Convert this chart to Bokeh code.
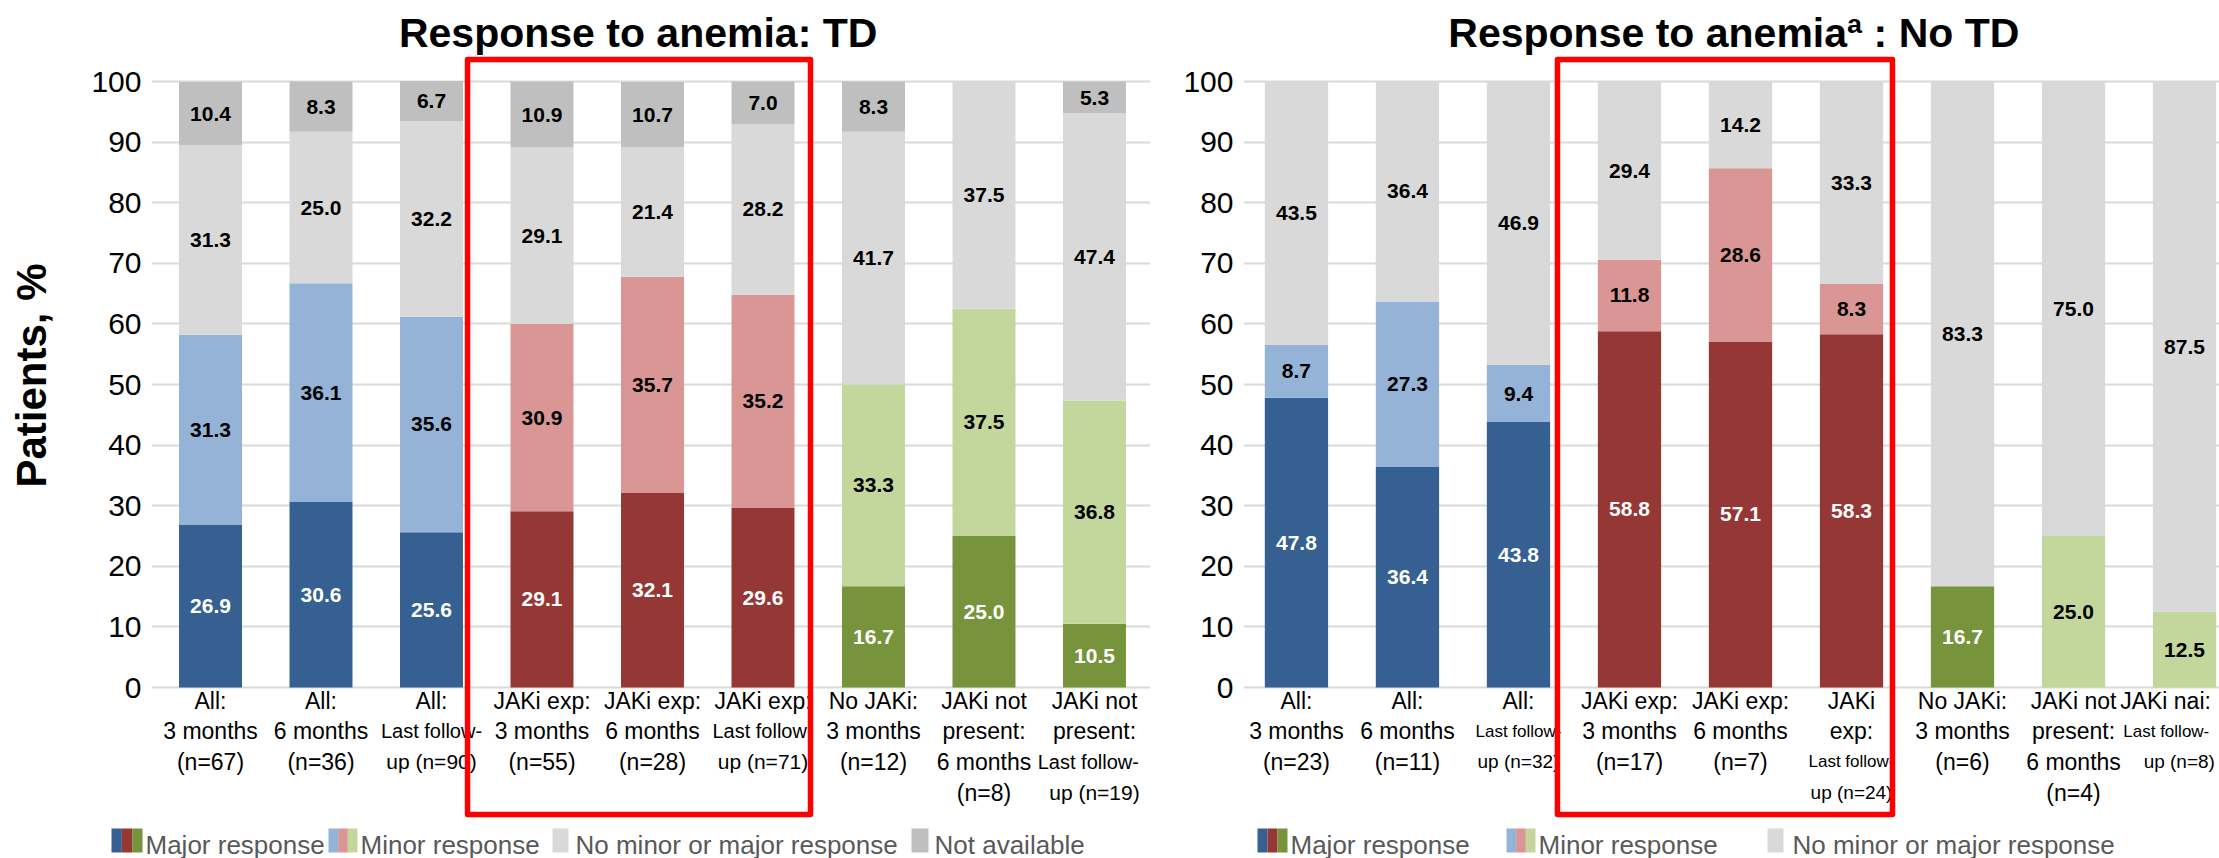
import numpy as np
from bokeh.plotting import figure
from bokeh.models import ColumnDataSource, Range1d, FixedTicker
from bokeh.layouts import row, column
from bokeh.embed import file_html
from bokeh.resources import INLINE
from bokeh.core.properties import value

# ---------------- data ----------------
td_title = "Response to anemia: TD"
td_labels = [
    "All:\n3 months\n(n=67)",
    "All:\n6 months\n(n=36)",
    "All:\nLast follow-\nup (n=90)",
    "JAKi exp:\n3 months\n(n=55)",
    "JAKi exp:\n6 months\n(n=28)",
    "JAKi exp:\nLast follow-\nup (n=71)",
    "No JAKi:\n3 months\n(n=12)",
    "JAKi not\npresent:\n6 months\n(n=8)",
    "JAKi not\npresent:\nLast follow-\nup (n=19)",
]
td_major = [26.9, 30.6, 25.6, 29.1, 32.1, 29.6, 16.7, 25.0, 10.5]
td_minor = [31.3, 36.1, 35.6, 30.9, 35.7, 35.2, 33.3, 37.5, 36.8]
td_none = [31.3, 25.0, 32.2, 29.1, 21.4, 28.2, 41.7, 37.5, 47.4]
td_na = [10.4, 8.3, 6.7, 10.9, 10.7, 7.0, 8.3, 0.0, 5.3]
td_group = [0, 0, 0, 1, 1, 1, 2, 2, 2]

notd_title = "Response to anemiaª : No TD"
notd_labels = [
    "All:\n3 months\n(n=23)",
    "All:\n6 months\n(n=11)",
    "All:\nLast follow-\nup (n=32)",
    "JAKi exp:\n3 months\n(n=17)",
    "JAKi exp:\n6 months\n(n=7)",
    "JAKi\nexp:\nLast follow-\nup (n=24)",
    "No JAKi:\n3 months\n(n=6)",
    "JAKi not\npresent:\n6 months\n(n=4)",
    "JAKi nai:\nLast follow-\nup (n=8)",
]
notd_major = [47.8, 36.4, 43.8, 58.8, 57.1, 58.3, 16.7, 0.0, 0.0]
notd_minor = [8.7, 27.3, 9.4, 11.8, 28.6, 8.3, 0.0, 25.0, 12.5]
notd_none = [43.5, 36.4, 46.9, 29.4, 14.2, 33.3, 83.3, 75.0, 87.5]
notd_group = [0, 0, 0, 1, 1, 1, 2, 2, 2]

y_title = "Patients, %"
td_legend = ["Major response", "Minor response", "No minor or major response", "Not available"]
notd_legend = ["Major response", "Minor response", "No minor or major response"]

# ---------------- styles / layout ----------------
MAJOR_COLORS = ["#366092", "#953735", "#77933C"]
MINOR_COLORS = ["#95B3D7", "#D99694", "#C3D69B"]
NONE_COLOR = "#D9D9D9"
NA_COLOR = "#BFBFBF"
FONT = "Liberation Sans"
PH = 822                      # panel height
PXU = 6.06                    # px per percentage point
Y0 = 687                      # px from panel top down to y = 0
y_range = Range1d(-(PH - Y0) / PXU, Y0 / PXU)
LINE_STEP = 30.7 / PXU
LABEL_TOP = -13 / PXU


def py(px_from_top):
    """data y of a position given in px from the top of a panel"""
    return (Y0 - px_from_top) / PXU


def panel(title, title_x, cats, layers, groups, width, b_left, xr, box, small_sizes):
    n = len(cats)
    x = np.arange(n)
    frame_w = width - b_left
    pxx = frame_w / (xr[1] - xr[0])
    p = figure(width=width, height=PH, x_range=Range1d(*xr), y_range=y_range,
               output_backend="svg", toolbar_location=None, x_axis_location=None,
               min_border_left=b_left, min_border_right=0,
               min_border_top=0, min_border_bottom=0)
    p.outline_line_color = None
    p.xgrid.visible = False
    p.ygrid.grid_line_color = "#D9D9D9"
    p.ygrid.grid_line_width = 2

    bottom = np.zeros(n)
    for vals, palette, tcolor in layers:
        v = np.array(vals, dtype=float)
        top = bottom + v
        fills = [palette[g] for g in groups]
        src = ColumnDataSource(dict(x=x, bottom=bottom, top=top, fill=fills))
        p.vbar(x="x", bottom="bottom", top="top", width=0.57, fill_color="fill",
               line_color=None, source=src)
        m = v > 0
        lsrc = ColumnDataSource(dict(x=x[m], y=((bottom + top) / 2)[m],
                                     t=[f"{a:.1f}" for a in v[m]]))
        p.text(x="x", y="y", text="t", source=lsrc, text_align="center",
               text_baseline="middle", text_font=value(FONT), text_font_style="bold",
               text_font_size="21px", text_color=tcolor)
        bottom = top

    # category labels, one text per line; kept inside the plot's right edge
    lx, ly, lt, ls = [], [], [], []
    for i, c in enumerate(cats):
        for j, line in enumerate(c.split("\n")):
            if "follow" in line:
                size = small_sizes[0]
            elif line.startswith("up "):
                size = small_sizes[1]
            else:
                size = 23
            half = 0.25 * size * len(line) / pxx
            lx.append(min(i, xr[1] - half - 0.02))
            ly.append(LABEL_TOP - j * LINE_STEP)
            lt.append(line)
            ls.append(f"{size}px")
    p.text(x=lx, y=ly, text=lt, text_font_size=ls, text_align="center",
           text_baseline="middle", text_font=value(FONT), text_color="black")

    # title
    p.text(x=[title_x], y=[py(32)], text=[title],
           text_align="center", text_baseline="middle", text_font=value(FONT),
           text_font_style="bold", text_font_size="41px", text_color="black")

    ya = p.yaxis[0]
    ya.ticker = FixedTicker(ticks=list(range(0, 101, 10)))
    ya.major_label_text_font = FONT
    ya.major_label_text_font_size = "30px"
    ya.major_label_text_color = "black"
    ya.axis_line_color = None
    ya.major_tick_line_color = None
    ya.minor_tick_line_color = None
    ya.major_tick_out = 0
    ya.major_tick_in = 0
    ya.major_label_standoff = 10

    # red highlight frame
    p.quad(left=[box[0]], right=[box[1]], top=[py(59)], bottom=[py(814)],
           fill_color=None, line_color="#FF0000", line_width=5.5, line_join="round")
    return p


ylab = figure(width=68, height=PH, x_range=Range1d(0, 68), y_range=y_range,
              output_backend="svg", toolbar_location=None, min_border=0,
              x_axis_location=None, y_axis_location=None)
ylab.grid.visible = False
ylab.outline_line_color = None
ylab.text(x=[31], y=[py(375)], text=[y_title], angle=np.pi / 2, text_align="center",
          text_baseline="middle", text_font=value(FONT), text_font_style="bold",
          text_font_size="42px", text_color="black")

p1 = panel(td_title, 3.87, td_labels,
           [(td_major, MAJOR_COLORS, "white"), (td_minor, MINOR_COLORS, "black"),
            (td_none, [NONE_COLOR] * 3, "black"), (td_na, [NA_COLOR] * 3, "black")],
           td_group, 1082, 83, (-0.534, 8.507), (2.326, 5.43), (20, 21))
p2 = panel(notd_title, 3.94, notd_labels,
           [(notd_major, MAJOR_COLORS, "white"), (notd_minor, MINOR_COLORS, "black"),
            (notd_none, [NONE_COLOR] * 3, "black")],
           notd_group, 1069, 93, (-0.477, 8.315), (2.351, 5.369), (17, 19))

# ---------------- legend strip ----------------
LW = 2219
LH = 36
leg = figure(width=LW, height=LH, x_range=Range1d(0, LW), y_range=Range1d(0, LH),
             output_backend="svg", toolbar_location=None, min_border=0,
             x_axis_location=None, y_axis_location=None)
leg.grid.visible = False
leg.outline_line_color = None

swatches = [MAJOR_COLORS, MINOR_COLORS, [NONE_COLOR], [NA_COLOR]]
left_items = [(111, 31, 145), (328, 29, 360), (552, 16, 575), (911, 17, 934)]
right_items = [(1257, 30, 1290), (1506, 29, 1538), (1767, 16, 1792)]
sw_l, sw_r, sw_c = [], [], []
tx, tt = [], []
for names, items in ((td_legend, left_items), (notd_legend, right_items)):
    for name, (x0, w, t0), cols in zip(names, items, swatches):
        step = w / len(cols)
        for k, c in enumerate(cols):
            sw_l.append(x0 + k * step)
            sw_r.append(x0 + (k + 1) * step)
            sw_c.append(c)
        tx.append(t0)
        tt.append(name)
leg.quad(left=sw_l, right=sw_r, bottom=6, top=30, fill_color=sw_c, line_color=None)
leg.text(x=tx, y=[14] * len(tx), text=tt, text_baseline="alphabetic", text_align="left",
         text_font=value(FONT), text_font_size="26px", text_color="#595959")

layout = column(row(ylab, p1, p2), leg)
open("out.html", "w").write(file_html(layout, INLINE))
